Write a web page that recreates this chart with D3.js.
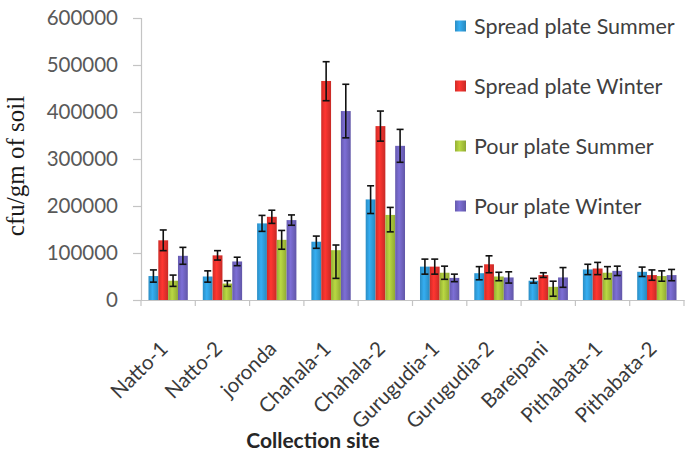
<!DOCTYPE html>
<html>
<head>
<meta charset="utf-8">
<script src="https://cdn.jsdelivr.net/npm/d3@7"></script>
<style>
  html, body { margin: 0; padding: 0; background: #fff; }
  svg { display: block; }
</style>
</head>
<body>
<svg id="chart" width="688" height="456"></svg>
<script>
// ---- data ----
const categories = ["Natto-1", "Natto-2", "joronda", "Chahala-1", "Chahala-2",
  "Gurugudia-1", "Gurugudia-2", "Bareipani", "Pithabata-1", "Pithabata-2"];
const seriesNames = ["Spread plate Summer", "Spread plate Winter", "Pour plate Summer", "Pour plate Winter"];
const spreadSummer = [51000, 50000, 163000, 124000, 214000, 71000, 57000, 41000, 65000, 60000];
const spreadWinter = [127000, 95000, 177000, 466000, 370000, 71000, 76000, 53000, 67000, 53000];
const pourSummer   = [41000, 35000, 128000, 106000, 181000, 58000, 50000, 28000, 58000, 51000];
const pourWinter   = [94000, 82000, 170000, 402000, 328000, 47000, 48000, 48000, 62000, 53000];
const spreadSummerErrUp = [13000, 12000, 17000, 12000, 29000, 16000, 14000, 5000, 11000, 10000];
const spreadSummerErrDn = [13000, 12000, 17000, 14000, 30000, 16000, 14000, 5000, 11000, 10000];
const spreadWinterErrUp = [22000, 10000, 14000, 41000, 32000, 16000, 18000, 5000, 13000, 11000];
const spreadWinterErrDn = [22000, 10000, 14000, 42000, 32000, 16000, 18000, 5000, 13000, 11000];
const pourSummerErrUp   = [12000, 6000, 20000, 11000, 16000, 14000, 9000, 12000, 13000, 11000];
const pourSummerErrDn   = [12000, 6000, 20000, 60000, 36000, 14000, 9000, 20000, 13000, 11000];
const pourWinterErrUp   = [18000, 9000, 11000, 57000, 35000, 8000, 12000, 21000, 10000, 12000];
const pourWinterErrDn   = [18000, 9000, 11000, 57000, 35000, 8000, 12000, 21000, 10000, 12000];
const yTicks = [0, 100000, 200000, 300000, 400000, 500000, 600000];
const colors = ["#2f9ad6", "#e2302b", "#a3bf3a", "#6e62bd"];

const values = [spreadSummer, spreadWinter, pourSummer, pourWinter];
const errUp = [spreadSummerErrUp, spreadWinterErrUp, pourSummerErrUp, pourWinterErrUp];
const errDn = [spreadSummerErrDn, spreadWinterErrDn, pourSummerErrDn, pourWinterErrDn];

// ---- layout ----
const svg = d3.select("#chart");
const plot = { left: 141, right: 684, top: 18, bottom: 300 };

const x0 = d3.scaleBand().domain(categories).range([plot.left, plot.right]).padding(0);
const bw = x0.bandwidth();
const x1 = d3.scaleBand().domain(d3.range(seriesNames.length))
  .range([bw * 0.138, bw * 0.862]).padding(0);
const y = d3.scaleLinear().domain([0, 600000]).range([plot.bottom, plot.top]);

// gradients
const defs = svg.append("defs");
colors.forEach((c, i) => {
  const g = defs.append("linearGradient").attr("id", "grad" + i)
    .attr("x1", "0%").attr("x2", "100%").attr("y1", "0%").attr("y2", "0%");
  const base = d3.color(c);
  g.append("stop").attr("offset", "0%").attr("stop-color", base.darker(0.25));
  g.append("stop").attr("offset", "40%").attr("stop-color", base.brighter(0.35));
  g.append("stop").attr("offset", "100%").attr("stop-color", base.darker(0.35));
});

// y axis
const yAxis = d3.axisLeft(y).tickValues(yTicks).tickSize(8).tickPadding(15)
  .tickFormat(d3.format("d"));
const yg = svg.append("g").attr("transform", `translate(${plot.left},0)`).call(yAxis);
yg.select(".domain").attr("stroke", "#c4c4c4").attr("stroke-width", 1.2);
yg.selectAll(".tick line").attr("stroke", "#c4c4c4").attr("stroke-width", 1.2);
yg.selectAll(".tick text")
  .attr("font-family", "Lato, 'Open Sans', sans-serif")
  .attr("font-size", "20.5px").attr("fill", "#595959");

// x axis
const xAxis = d3.axisBottom(x0).tickSize(0).tickFormat("");
const xg = svg.append("g").attr("transform", `translate(0,${plot.bottom})`).call(xAxis);
xg.select(".domain").attr("stroke", "#c4c4c4").attr("stroke-width", 1.2);
// boundary tick marks
const bounds = categories.map(c => x0(c)).concat([x0(categories[categories.length - 1]) + bw]);
xg.selectAll("line.bound").data(bounds).enter().append("line")
  .attr("class", "bound")
  .attr("x1", d => d).attr("x2", d => d).attr("y1", 0).attr("y2", 6)
  .attr("stroke", "#c4c4c4").attr("stroke-width", 1.2);

// category labels
svg.append("g").selectAll("text").data(categories).enter().append("text")
  .attr("transform", d => `translate(${x0(d) + bw / 2 + 1},${plot.bottom + 50}) rotate(-45)`)
  .attr("text-anchor", "end")
  .attr("font-family", "Lato, 'Open Sans', sans-serif")
  .attr("font-size", "20.5px").attr("fill", "#3a3a3a")
  .text(d => d);

// bars
const groups = svg.append("g").selectAll("g").data(categories).enter().append("g")
  .attr("transform", d => `translate(${x0(d)},0)`);

groups.selectAll("rect").data((d, ci) => values.map((s, si) => ({ si, v: s[ci] })))
  .enter().append("rect")
  .attr("x", d => x1(d.si))
  .attr("width", x1.bandwidth())
  .attr("y", d => y(d.v))
  .attr("height", d => y(0) - y(d.v))
  .attr("fill", d => `url(#grad${d.si})`);

// error bars
const capW = 3.5;
const errData = (d, ci) => values.map((s, si) => ({
  si, v: s[ci], up: errUp[si][ci], dn: errDn[si][ci]
}));
const eg = groups.selectAll("g.err").data(errData).enter().append("g").attr("class", "err")
  .attr("stroke", "#111").attr("stroke-width", 1.6);
eg.append("line")
  .attr("x1", d => x1(d.si) + x1.bandwidth() / 2).attr("x2", d => x1(d.si) + x1.bandwidth() / 2)
  .attr("y1", d => y(d.v + d.up)).attr("y2", d => y(Math.max(0, d.v - d.dn)));
eg.append("line")
  .attr("x1", d => x1(d.si) + x1.bandwidth() / 2 - capW).attr("x2", d => x1(d.si) + x1.bandwidth() / 2 + capW)
  .attr("y1", d => y(d.v + d.up)).attr("y2", d => y(d.v + d.up));
eg.append("line")
  .attr("x1", d => x1(d.si) + x1.bandwidth() / 2 - capW).attr("x2", d => x1(d.si) + x1.bandwidth() / 2 + capW)
  .attr("y1", d => y(Math.max(0, d.v - d.dn))).attr("y2", d => y(Math.max(0, d.v - d.dn)));

// y title
svg.append("text")
  .attr("transform", `translate(24,${(plot.top + plot.bottom) / 2 + 7}) rotate(-90)`)
  .attr("text-anchor", "middle")
  .attr("font-family", "'Liberation Serif', 'DejaVu Serif', serif")
  .attr("font-size", "25px").attr("fill", "#1a1a1a")
  .text("cfu/gm of soil");

// x title
svg.append("text")
  .attr("x", 313).attr("y", 448)
  .attr("text-anchor", "middle")
  .attr("font-family", "Lato, 'Open Sans', sans-serif")
  .attr("font-weight", "bold")
  .attr("font-size", "21px").attr("fill", "#262626")
  .text("Collection site");

// legend
const leg = svg.append("g").selectAll("g").data(seriesNames).enter().append("g")
  .attr("transform", (d, i) => `translate(455,${26 + i * 60})`);
leg.append("rect").attr("x", 0).attr("y", -5.5).attr("width", 11).attr("height", 11)
  .attr("fill", (d, i) => `url(#grad${i})`);
leg.append("text").attr("x", 19).attr("y", 0).attr("dy", "0.36em")
  .attr("font-family", "Lato, 'Open Sans', sans-serif")
  .attr("font-size", "21.5px").attr("fill", "#404040")
  .text(d => d);
</script>
</body>
</html>
